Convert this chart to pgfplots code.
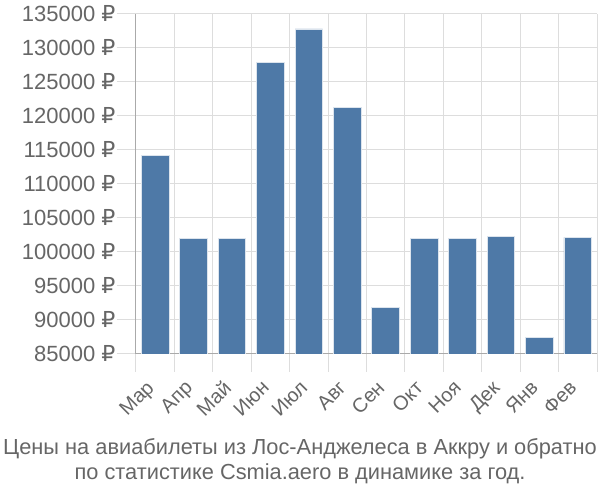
\documentclass[border=0pt]{standalone}
\usepackage{pgfplots}
\pgfplotsset{compat=1.18}
\usepackage{fontspec}
\setmainfont{Liberation Sans}
\newfontfamily\rub{DejaVu Sans}
\definecolor{txt}{RGB}{102,102,102}
\definecolor{gridc}{RGB}{221,221,221}
\definecolor{axc}{RGB}{170,170,170}
\definecolor{barc}{RGB}{78,121,167}
\newcommand{\rubl}[1]{\mbox{#1~{\rub ₽}}}
\begin{document}
\begin{tikzpicture}
\path[use as bounding box] (-136pt,-146pt) rectangle (464pt,354pt);
\begin{axis}[
  at={(0,0)}, anchor=south west,
  scale only axis, width=461pt, height=340pt,
  xmin=-0.5, xmax=11.5, ymin=85000, ymax=135000,
  ytick={85000,90000,...,135000},
  yticklabels={\rubl{85000},\rubl{90000},\rubl{95000},\rubl{100000},\rubl{105000},\rubl{110000},\rubl{115000},\rubl{120000},\rubl{125000},\rubl{130000},\rubl{135000}},
  scaled y ticks=false,
  xtick={0,...,11},
  xticklabels={Мар,Апр,Май,Июн,Июл,Авг,Сен,Окт,Ноя,Дек,Янв,Фев},
  minor xtick={-0.5,0.5,...,11.5},
  major x tick style={draw=none},
  minor tick length=18pt,
  major tick length=19pt,
  tick align=outside,
  ymajorgrids, xminorgrids,
  grid style={gridc, line width=1pt},
  minor grid style={gridc, line width=1pt},
  tick style={gridc, line width=1pt},
  axis x line*=bottom, axis y line*=left,
  axis line style={axc, line width=1pt, -},
  yticklabel style={font=\fontsize{22}{24}\selectfont, text=txt, xshift=2pt},
  xticklabel style={font=\fontsize{20}{22}\selectfont, text=txt, rotate=45, anchor=north east, yshift=6pt, xshift=-8pt},
  ybar, bar width=0.72,
]
\addplot[fill=barc, draw=white!80!barc, line width=0.8pt] coordinates {
(0,114250) (1,102000) (2,102000) (3,127850) (4,132800) (5,121200)
(6,91800) (7,102000) (8,102000) (9,102250) (10,87450) (11,102150)};
\end{axis}
\node[anchor=base, text=txt, font=\fontsize{21.8}{24}\selectfont] at (164pt,-101pt) {Цены на авиабилеты из Лос-Анджелеса в Аккру и обратно};
\node[anchor=base, text=txt, font=\fontsize{21.8}{24}\selectfont] at (164pt,-126pt) {по статистике Csmia.aero в динамике за год.};
\end{tikzpicture}
\end{document}
